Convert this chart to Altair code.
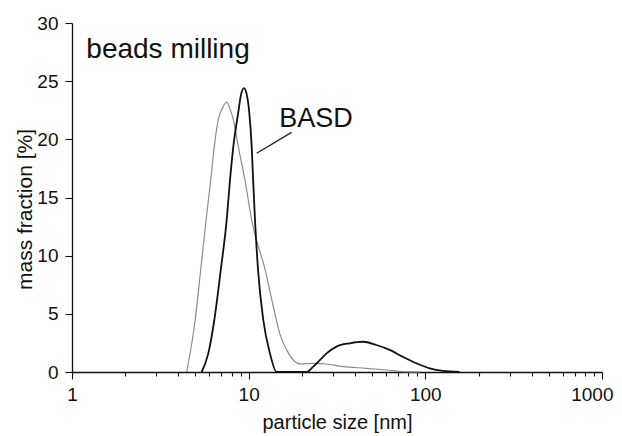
import altair as alt
import pandas as pd

# gray curve (wider distribution)
gray_x = [4.46, 4.98, 5.35, 5.74, 6.10, 6.39, 6.73, 7.11, 7.51, 7.84, 8.19, 8.73, 9.53, 10.4, 12.4, 13.8, 15.0, 16.4, 17.9, 19.5, 23.2, 27.6, 34.2, 46.4, 60.2, 74.5, 92.9]
gray_y = [0.0, 4.47, 8.77, 13.07, 16.5, 19.4, 21.7, 22.7, 23.2, 22.6, 21.7, 19.4, 16.5, 13.07, 8.77, 5.6, 3.3, 1.9, 1.03, 0.69, 0.75, 0.69, 0.46, 0.32, 0.17, 0.03, 0.0]

# black curve (BASD)
black_x = [5.42, 5.91, 6.39, 6.95, 7.51, 7.84, 8.19, 8.73, 9.04, 9.40, 9.77, 10.08, 10.4, 10.6, 10.86, 11.3, 12.1, 13.2, 14.4, 21.3, 23.2, 25.3, 27.6, 31.4, 37.4, 44.4, 52.8, 62.8, 74.7, 89.0, 105.8, 125.7, 156.0]
black_y = [0.0, 1.6, 4.47, 8.77, 13.07, 16.5, 19.4, 22.3, 23.8, 24.4, 23.8, 22.3, 19.4, 16.5, 13.07, 8.77, 4.47, 1.6, 0.0, 0.0, 0.46, 1.03, 1.6, 2.18, 2.47, 2.6, 2.32, 1.9, 1.3, 0.75, 0.32, 0.09, 0.0]

x_ticks = [1, 2, 3, 4, 5, 6, 7, 8, 9, 10, 20, 30, 40, 50, 60, 70, 80, 90, 100, 200, 300, 400, 500, 600, 700, 800, 900, 1000]
y_ticks = [0, 2.5, 5, 7.5, 10, 12.5, 15, 17.5, 20, 22.5, 25, 27.5, 30]

labels_text = ["beads milling", "BASD"]
labels_x = [1.205, 14.9]
labels_y = [27.0, 21.1]
labels_size = [28, 27]

leader_x = [17.5, 11.1]
leader_y = [20.6, 18.8]

FONT = "Liberation Sans"

df_gray = pd.DataFrame({"x": gray_x, "y": gray_y})
df_black = pd.DataFrame({"x": black_x, "y": black_y})
df_lab = pd.DataFrame({"t": labels_text, "x": labels_x, "y": labels_y, "s": labels_size})
df_lead = pd.DataFrame({"x": [leader_x[0]], "y": [leader_y[0]], "x2": [leader_x[1]], "y2": [leader_y[1]]})

xscale = alt.Scale(type="log", domain=[1, 1000])
yscale = alt.Scale(domain=[0, 30])

xaxis = alt.Axis(
    values=x_ticks,
    labelExpr="indexof([1,10,100,1000], datum.value) >= 0 ? format(datum.value, 'd') : ''",
    tickSize=alt.condition("indexof([1,10,100,1000], datum.value) >= 0", alt.value(7), alt.value(4)),
    labelAlign=alt.condition("datum.value >= 1000", alt.value("right"), alt.value("center")),
    labelOffset=alt.condition("datum.value >= 1000", alt.value(11), alt.value(0)),
    labelOverlap=False,
    labelFlush=False,
    grid=False,
    title="particle size [nm]",
    titleBaseline="alphabetic",
    titleY=56,
    labelPadding=6,
)
yaxis = alt.Axis(
    values=y_ticks,
    labelExpr="datum.value % 5 == 0 ? format(datum.value, 'd') : ''",
    tickSize=alt.condition("datum.value % 5 == 0", alt.value(7), alt.value(4)),
    labelOverlap=False,
    labelFlush=False,
    grid=False,
    title="mass fraction [%]",
    titleBaseline="alphabetic",
    titleFontSize=21,
    titleX=-41,
    titleY=186,
    labelPadding=7,
)

base_x = alt.X("x:Q", scale=xscale, axis=xaxis)
base_y = alt.Y("y:Q", scale=yscale, axis=yaxis)

gray = alt.Chart(df_gray).mark_line(color="#8c8c8c", strokeWidth=1.2, interpolate="monotone").encode(
    x=base_x, y=base_y)
black = alt.Chart(df_black).mark_line(color="#111111", strokeWidth=1.8, interpolate="monotone").encode(
    x=alt.X("x:Q", scale=xscale), y=alt.Y("y:Q", scale=yscale))
texts = alt.Chart(df_lab).mark_text(align="left", baseline="alphabetic", font=FONT, color="#111111").encode(
    x=alt.X("x:Q", scale=xscale), y=alt.Y("y:Q", scale=yscale), text="t:N",
    size=alt.Size("s:Q", scale=None, legend=None))
lead = alt.Chart(df_lead).mark_rule(color="#222222", strokeWidth=1.3).encode(
    x=alt.X("x:Q", scale=xscale), y=alt.Y("y:Q", scale=yscale),
    x2="x2:Q", y2="y2:Q")

chart = alt.layer(gray, black, lead, texts).properties(
    width=530, height=349,
    background="white",
    autosize=alt.AutoSizeParams(type="none"),
    padding={"left": 64, "top": 15, "right": 12, "bottom": 64},
).configure_view(stroke=None).configure_axis(
    domainColor="#111111", domainWidth=1.3, tickColor="#111111", tickWidth=1.1,
    labelFont=FONT, labelFontSize=19, labelColor="#111111",
    titleFont=FONT, titleFontSize=20, titleColor="#111111", titleFontWeight="normal",
)

chart.save("out.html", embed_options={"renderer": "svg", "actions": False})
